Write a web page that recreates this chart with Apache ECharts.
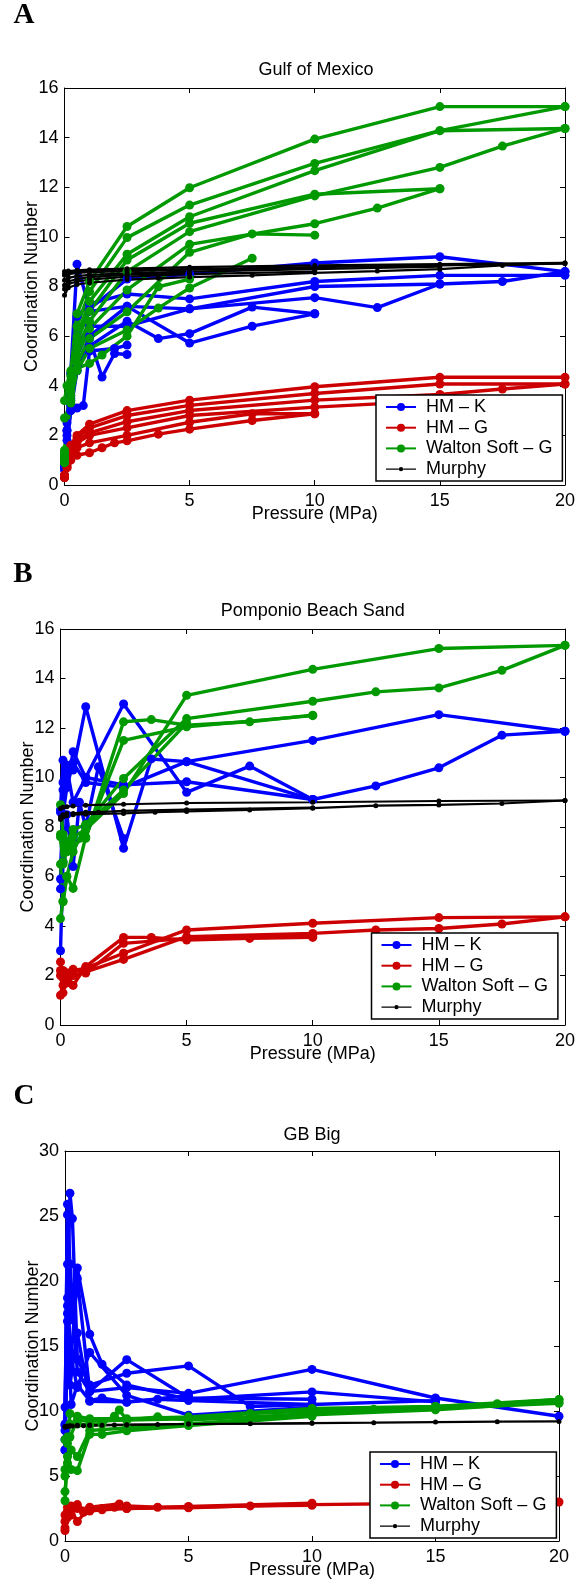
<!DOCTYPE html>
<html><head><meta charset="utf-8">
<script src="https://cdn.jsdelivr.net/npm/echarts@6/dist/echarts.min.js"></script>
<style>html,body{margin:0;padding:0;background:#fff}#c{width:578px;height:1581px}</style>
</head><body><div id="c"></div>
<script>
// ---------- labels ----------
const panelTitles = ['Gulf of Mexico', 'Pomponio Beach Sand', 'GB Big'];
const panelLetters = ['A', 'B', 'C'];
const groupNames = ['HM – K', 'HM – G', 'Walton Soft – G', 'Murphy'];
const xName = 'Pressure (MPa)';
const yName = 'Coordination Number';
const xTicks = [0, 5, 10, 15, 20];
const yTicksAB = [0, 2, 4, 6, 8, 10, 12, 14, 16];
const yTicksC = [0, 5, 10, 15, 20, 25, 30];

// ---------- Panel A: Gulf of Mexico ([pressure, coordination number]) ----------
const gulfHMK = [
  [[0,0.8],[0.1,2.5],[0.25,4.5],[0.5,8.9],[1,7.1],[2.5,8.3],[5,8.5],[10,8.95],[15,9.2],[20,8.6]],
  [[0,0.9],[0.1,2.2],[0.25,4.0],[0.5,6.8],[1,7.3],[2.5,7.7],[5,7.5],[10,8.2],[15,8.45],[20,8.45]],
  [[0,1.0],[0.25,3.6],[0.5,6.0],[1,7.0],[2.5,7.2],[5,7.1],[10,8.0],[15,8.1],[17.5,8.2],[20,8.6]],
  [[0,1.1],[0.25,3.2],[0.5,5.5],[1,6.4],[2.5,6.4],[5,7.1],[10,7.55],[12.5,7.15],[15,8.1]],
  [[0,0.7],[0.1,2.0],[0.25,3.4],[0.5,4.8],[1,6.0],[2.5,7.2],[5,5.72],[7.5,6.4],[10,6.9]],
  [[0,0.8],[0.25,3.0],[0.5,4.6],[1,5.6],[2.5,6.6],[3.75,5.9],[5,6.1],[7.5,7.17],[10,6.9]],
  [[0,0.7],[0.1,2.2],[0.25,3.5],[0.5,4.6],[1,5.9],[1.5,4.35],[2,5.3],[2.5,5.26]],
  [[0,0.6],[0.1,1.8],[0.25,3.0],[0.5,3.1],[0.75,3.2],[1,5.4],[2,5.5],[2.5,5.64]]
];
const gulfHMG = [
  [[0,0.3],[0.1,1.0],[0.25,1.6],[0.5,2.0],[1,2.45],[2.5,3.0],[5,3.42],[10,3.96],[15,4.34],[20,4.34]],
  [[0,0.3],[0.1,0.9],[0.25,1.5],[0.5,1.9],[1,2.3],[2.5,2.8],[5,3.21],[10,3.69],[15,4.07],[20,4.07]],
  [[0,0.4],[0.1,0.9],[0.25,1.4],[0.5,1.8],[1,2.1],[2.5,2.55],[5,3.0],[10,3.42],[15,3.65],[17.5,3.87],[20,4.07]],
  [[0,0.35],[0.1,0.8],[0.25,1.3],[0.5,1.7],[1,2.0],[2.5,2.3],[5,2.8],[10,3.14],[15,3.4]],
  [[0,0.4],[0.1,0.7],[0.25,1.1],[0.5,1.5],[1,1.7],[2.5,2.0],[5,2.53],[7.5,2.87],[10,2.87]],
  [[0,0.3],[0.1,0.7],[0.25,1.0],[0.5,1.2],[1,1.3],[1.5,1.5],[2,1.7],[2.5,1.78],[3.75,2.05],[5,2.25],[7.5,2.6],[10,2.87]]
];
const gulfWalton = [
  [[0,0.9],[0.25,4.6],[0.5,6.9],[1,8.2],[2.5,10.42],[5,11.98],[10,13.94],[15,15.25],[20,15.25]],
  [[0,0.9],[0.25,4.4],[0.5,6.4],[1,7.8],[2.5,9.97],[5,11.28],[10,12.96],[15,14.28],[20,15.25]],
  [[0,1.0],[0.25,4.2],[0.5,6.0],[1,7.4],[2.5,9.3],[5,10.81],[10,12.67],[15,14.28],[20,14.37]],
  [[0,1.1],[0.25,4.0],[0.5,5.8],[1,7.0],[2.5,9.07],[5,10.55],[10,11.72],[15,11.94]],
  [[0,1.2],[0.25,3.8],[0.5,5.5],[1,6.6],[2.5,8.6],[5,10.21],[10,11.65],[15,12.8],[17.5,13.66],[20,14.37]],
  [[0,1.3],[0.25,3.6],[0.5,5.2],[1,6.3],[2.5,7.86],[5,9.7],[10,10.53],[12.5,11.16],[15,11.94]],
  [[0,1.4],[0.25,3.4],[0.5,4.9],[1,5.9],[2.5,6.98],[5,9.38],[7.5,10.12],[10,10.07]],
  [[0,2.7],[0.25,3.3],[0.5,4.6],[1,5.5],[2.5,6.25],[3.75,7.13],[5,7.94],[7.5,9.14]],
  [[0,3.4],[0.1,4.0],[0.5,4.7],[1,4.9],[1.5,5.24],[2.5,6.0],[3.75,7.99],[5,8.3]]
];
const gulfMurphy = [
  [[0,8.6],[0.15,8.62],[0.5,8.65],[1,8.68],[2.5,8.72],[5,8.78],[10,8.85],[15,8.9],[20,8.95]],
  [[0,8.45],[0.15,8.5],[0.5,8.55],[1,8.58],[2.5,8.62],[5,8.68],[10,8.78],[15,8.85],[20,8.92]],
  [[0,8.25],[0.15,8.35],[0.5,8.42],[1,8.47],[2.5,8.53],[5,8.6],[10,8.7],[15,8.8]],
  [[0,7.65],[0.15,7.95],[0.5,8.08],[1,8.15],[2.5,8.28],[3.75,8.33],[5,8.38],[7.5,8.45],[10,8.55],[12.5,8.62],[15,8.7],[17.5,8.85],[20,8.95]],
  [[0,7.9],[0.15,8.1],[0.5,8.2],[1,8.28],[2.5,8.4],[5,8.5],[10,8.6]],
  [[0,8.05],[0.15,8.2],[0.5,8.3],[1,8.38],[2.5,8.48],[5,8.55]],
  [[0,8.5],[0.15,8.55],[0.5,8.6],[1,8.62],[2.5,8.66],[5,8.7],[10,8.75]]
];

// ---------- Panel B: Pomponio Beach Sand ----------
const pompHMK = [
  [[0,8.7],[0.1,10.7],[0.25,9.6],[0.5,10.6],[1,9.8],[2.5,9.6],[5,10.64],[10,11.5],[15,12.54],[20,11.87]],
  [[0,8.6],[0.1,9.5],[0.25,10.4],[0.5,9.0],[1,10.0],[2.5,9.7],[5,9.83],[10,9.11],[12.5,9.66],[15,10.39],[17.5,11.71],[20,11.87]],
  [[0,5.9],[0.1,8.5],[0.25,9.6],[0.5,11.04],[1,10.0],[2.5,12.97],[5,9.4],[7.5,10.46],[10,9.11]],
  [[0,5.5],[0.1,9.8],[0.25,10.5],[0.5,10.3],[1,12.86],[2.5,7.14],[3.6,10.75],[5,10.64],[10,9.11]],
  [[0,3.0],[0.1,6.6],[0.25,8.5],[0.5,6.4],[0.75,9.0],[1,8.0],[1.5,10.43],[2.5,7.54]]
];
const pompHMG = [
  [[0,2.2],[0.1,1.3],[0.25,2.1],[0.5,2.2],[1,2.3],[2.5,2.9],[5,3.84],[10,4.11],[15,4.34],[20,4.37]],
  [[0,2.55],[0.1,1.9],[0.25,1.7],[0.5,2.0],[1,2.15],[2.5,2.65],[5,3.57],[10,3.7],[12.5,3.84],[15,3.9],[17.5,4.08],[20,4.37]],
  [[0,1.2],[0.1,1.6],[0.25,2.1],[0.5,1.6],[1,2.36],[2.5,3.54],[3.6,3.54],[5,3.43],[7.5,3.5],[10,3.54]],
  [[0,2.0],[0.1,2.2],[0.25,1.9],[0.5,2.25],[1,2.1],[2.5,3.3],[5,3.5],[10,3.6]]
];
const pompWalton = [
  [[0,7.6],[0.1,6.6],[0.25,7.2],[0.5,7.6],[1,7.9],[2.5,9.35],[5,13.32],[10,14.37],[15,15.21],[20,15.34]],
  [[0,8.9],[0.1,7.7],[0.25,7.4],[0.5,7.9],[1,8.1],[2.5,9.96],[5,12.38],[10,13.08],[12.5,13.46],[15,13.62],[17.5,14.33],[20,15.34]],
  [[0,7.7],[0.1,6.5],[0.25,7.0],[0.5,7.3],[1,7.54],[2.5,12.25],[3.6,12.34],[5,12.11],[7.5,12.25],[10,12.52]],
  [[0,4.3],[0.1,5.0],[0.25,6.0],[0.5,5.52],[1,7.6],[2.5,11.5],[5,12.05],[10,12.5]],
  [[0,6.5],[0.1,4.98],[0.25,6.0],[0.5,7.0],[1,8.08],[2.5,9.5],[5,12.2]]
];
const pompMurphy = [
  [[0,8.75],[0.1,8.8],[0.25,8.82],[0.5,8.85],[1,8.88],[2.5,8.92],[5,8.97],[10,9.0],[15,9.05],[20,9.07]],
  [[0,8.3],[0.1,8.4],[0.25,8.45],[0.5,8.5],[1,8.52],[2.5,8.55],[3.75,8.6],[5,8.63],[7.5,8.69],[10,8.76],[12.5,8.86],[15,8.89],[17.5,8.95],[20,9.07]],
  [[0,8.4],[0.1,8.5],[0.25,8.55],[0.5,8.55],[1,8.6],[1.5,8.6],[2.5,8.65],[5,8.7],[10,8.78]]
];

// ---------- Panel C: GB Big ----------
const gbHMK = [
  [[0,7.0],[0.1,18.1],[0.2,26.75],[0.3,24.8],[0.5,14.0],[1,12.0],[2.5,12.9],[5,13.47],[7.5,10.35],[10,10.5]],
  [[0,8.9],[0.1,25.9],[0.2,21.3],[0.5,13.0],[1,11.5],[2.5,11.8],[5,11.36],[10,13.2],[15,11.0],[20,9.6]],
  [[0,9.0],[0.1,25.1],[0.2,17.0],[0.5,21.0],[1,15.9],[1.5,13.6],[2.5,12.0],[5,10.9],[10,11.47],[15,10.7]],
  [[0,10.3],[0.1,18.7],[0.2,13.0],[0.5,20.2],[1,11.5],[2.5,13.95],[5,11.0],[10,10.9]],
  [[0,8.5],[0.1,16.9],[0.2,12.0],[0.5,16.0],[1,10.75],[2.5,10.7],[3.75,10.9],[5,10.8],[10,10.5],[15,10.8]],
  [[0,7.8],[0.1,21.3],[0.2,14.5],[0.5,11.8],[1,14.5],[2.5,11.2],[5,9.68],[10,10.3]],
  [[0,7.0],[0.1,17.5],[0.25,10.5],[0.5,12.0],[1,10.8],[1.5,11.0],[2.5,10.67],[5,11.2]]
];
const gbHMG = [
  [[0,0.8],[0.1,1.8],[0.2,2.6],[0.5,2.5],[1,2.5],[2.5,2.55],[5,2.6],[10,2.8],[15,2.9],[20,3.0]],
  [[0,1.5],[0.1,2.3],[0.25,2.7],[0.5,2.6],[1,2.4],[1.5,2.5],[2,2.6],[2.5,2.7],[3.75,2.6],[5,2.55],[7.5,2.7],[10,2.75]],
  [[0,1.0],[0.1,2.0],[0.25,2.4],[0.5,1.5],[1,2.6],[2.2,2.85],[2.5,2.5],[5,2.65],[10,2.9]],
  [[0,2.0],[0.1,2.6],[0.25,2.0],[0.5,2.8],[0.75,2.2],[1,2.3],[1.5,2.4],[2.5,2.5],[5,2.6]]
];
const gbWalton = [
  [[0,3.1],[0.1,7.5],[0.2,9.8],[0.5,9.6],[1,9.4],[2.5,9.41],[5,9.55],[10,10.2],[15,10.35],[20,10.88]],
  [[0,3.8],[0.1,6.0],[0.2,8.0],[0.5,9.3],[1,9.2],[2.5,9.3],[5,9.4],[7.5,9.8],[10,10.0],[12.5,10.13],[15,10.35],[17.5,10.56],[20,10.88]],
  [[0,5.5],[0.1,8.0],[0.2,9.0],[0.5,9.0],[1,8.9],[1.5,9.0],[2,9.6],[2.2,10.08],[2.5,9.3],[3.75,9.55],[5,9.3],[10,9.8],[15,10.2],[20,10.6]],
  [[0,5.0],[0.1,6.5],[0.25,5.5],[0.5,5.41],[1,8.2],[1.5,8.2],[2.5,8.48],[5,8.88],[10,9.6]],
  [[0,7.8],[0.1,5.6],[0.25,7.0],[0.5,6.5],[1,8.5],[2.5,8.7],[5,9.0],[10,9.7],[15,10.1],[20,10.7]]
];
const gbMurphy = [
  [[0,8.75],[0.05,8.8],[0.1,8.82],[0.2,8.84],[0.3,8.85],[0.5,8.86],[0.75,8.87],[1,8.88],[1.5,8.9],[2,8.92],[2.5,8.93],[3.75,8.96],[5,9.0],[7.5,9.02],[10,9.07],[12.5,9.1],[15,9.15],[17.5,9.18],[20,9.2]],
  [[0,8.8],[0.1,8.85],[0.2,8.87],[0.5,8.9],[1,8.92],[2.5,8.95],[5,9.0],[10,9.05]]
];

// ---------- build ----------
const FONT = 'Liberation Sans';
const colors = ['#0000ff', '#cc0000', '#009900', '#000000'];
const panelData = [
  [gulfHMK, gulfHMG, gulfWalton, gulfMurphy],
  [pompHMK, pompHMG, pompWalton, pompMurphy],
  [gbHMK, gbHMG, gbWalton, gbMurphy]
];
const yTickSets = [yTicksAB, yTicksAB, yTicksC];
const grids = [
  {left: 64.5, top: 88, width: 503.5, height: 397},
  {left: 60.5, top: 629, width: 504.5, height: 396},
  {left: 65, top: 1151, width: 494, height: 390}
];
const legendPos = [{left: 376, top: 395}, {left: 371.5, top: 933}, {left: 370, top: 1452}];
const titlePos = [[316, 70], [312.7, 611], [312, 1135]];
const letterPos = [[24, 16], [23, 575], [24, 1097]];

const xAxes = [], yAxes = [], series = [], legends = [], graphics = [];
const axisLine = {show: true, onZero: false, lineStyle: {color: '#000', width: 1}};
const tick = {show: true, inside: true, length: 5, lineStyle: {color: '#000', width: 1}};
const lbl = {color: '#000', fontSize: 18, fontFamily: FONT};

panelData.forEach((groups, p) => {
  const yt = yTickSets[p];
  const xr = {min: xTicks[0], max: xTicks[xTicks.length - 1], interval: xTicks[1] - xTicks[0]};
  const yr = {min: yt[0], max: yt[yt.length - 1], interval: yt[1] - yt[0]};
  xAxes.push(Object.assign({type: 'value', gridIndex: p, position: 'bottom', axisLine, axisTick: tick,
    axisLabel: Object.assign({margin: 7}, lbl), splitLine: {show: false},
    name: xName, nameLocation: 'middle', nameGap: 20, nameMoveOverlap: false, nameTextStyle: lbl}, xr));
  xAxes.push(Object.assign({type: 'value', gridIndex: p, position: 'top', axisLine, axisTick: tick,
    axisLabel: {show: false}, splitLine: {show: false}}, xr));
  yAxes.push(Object.assign({type: 'value', gridIndex: p, position: 'left', axisLine, axisTick: tick,
    axisLabel: Object.assign({margin: 6}, lbl), splitLine: {show: false},
    name: yName, nameLocation: 'middle', nameGap: 23, nameMoveOverlap: false, nameTextStyle: lbl}, yr));
  yAxes.push(Object.assign({type: 'value', gridIndex: p, position: 'right', axisLine, axisTick: tick,
    axisLabel: {show: false}, splitLine: {show: false}}, yr));

  groups.forEach((curves, g) => {
    const murphy = g === 3;
    curves.forEach(c => {
      series.push({
        type: 'line', name: groupNames[g], xAxisIndex: 2 * p, yAxisIndex: 2 * p, data: c,
        symbol: 'circle', symbolSize: murphy ? 5 : 9, showSymbol: true, showAllSymbol: true,
        lineStyle: {color: colors[g], width: murphy ? 2.2 : 3.4},
        itemStyle: {color: colors[g], borderWidth: 0},
        emphasis: {disabled: true}, silent: true, animation: false
      });
    });
  });

  legends.push({
    orient: 'vertical', left: legendPos[p].left, top: legendPos[p].top,
    padding: [3, 10, 3, 9], itemWidth: 30, itemHeight: 10, itemGap: 2.7,
    backgroundColor: '#fff', borderColor: '#000', borderWidth: 1.5, borderRadius: 0,
    selectedMode: false,
    textStyle: {color: '#000', fontSize: 18, fontFamily: FONT, lineHeight: 18, padding: [0, 0, 0, 5]},
    data: [groupNames[0], groupNames[1], groupNames[2], {
      name: groupNames[3],
      icon: 'path://M0,0L0.01,0L0,0.01Z M0,10L0.01,10L0,9.99Z M0,4.3L12.8,4.3L12.8,5.7L0,5.7Z M17.2,4.3L30,4.3L30,5.7L17.2,5.7Z M12.8,5A2.2,2.2,0,1,1,17.2,5A2.2,2.2,0,1,1,12.8,5Z',
      itemStyle: {borderWidth: 0, color: '#000'}
    }]
  });

  graphics.push({type: 'text', x: titlePos[p][0], y: titlePos[p][1],
    style: {text: panelTitles[p], fill: '#000', fontSize: 18, fontFamily: FONT, align: 'center', verticalAlign: 'middle'}});
  graphics.push({type: 'text', x: letterPos[p][0], y: letterPos[p][1],
    style: {text: panelLetters[p], fill: '#000', fontSize: 29, fontWeight: 'bold', fontFamily: 'Liberation Serif', align: 'center', verticalAlign: 'middle'}});
});

const chart = echarts.init(document.getElementById('c'), null, {renderer: 'canvas'});
chart.setOption({
  animation: false,
  backgroundColor: '#fff',
  grid: grids,
  xAxis: xAxes,
  yAxis: yAxes,
  legend: legends,
  series: series,
  graphic: graphics
});
</script>
</body></html>
